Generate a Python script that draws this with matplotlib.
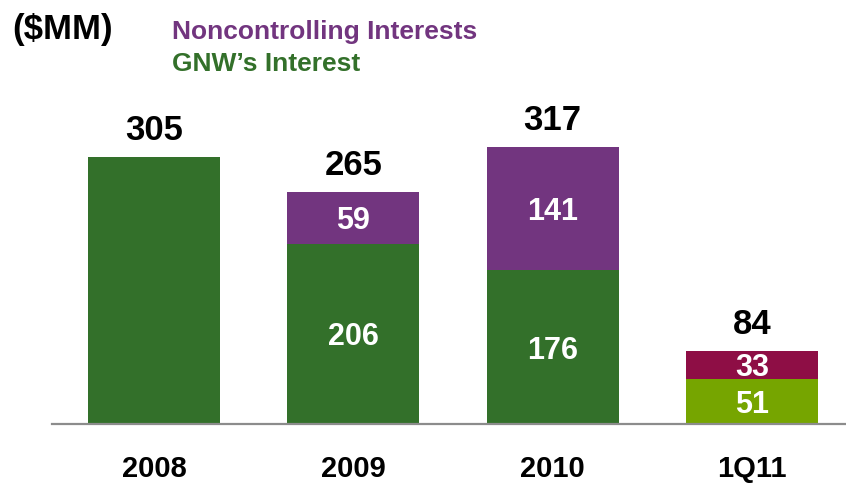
import matplotlib.pyplot as plt
import numpy as np

plt.rcParams['font.family'] = ['Liberation Sans', 'DejaVu Sans']

periods = ["2008", "2009", "2010", "1Q11"]
gnw_interest = [305, 206, 176, 51]
noncontrolling = [0, 59, 141, 33]
totals = [305, 265, 317, 84]

dark_green = "#33702A"
purple = "#72357F"
light_green = "#76A500"
maroon = "#8E0E45"

base_colors = [dark_green, dark_green, dark_green, light_green]
top_colors = [purple, purple, purple, maroon]

fig = plt.figure(figsize=(8.46, 4.83), dpi=100)
ax = fig.add_axes([52 / 846, 59 / 483, 794 / 846, 424 / 483])

x = np.arange(len(periods))
width = 0.662

ax.bar(x, gnw_interest, width, color=base_colors, zorder=2)
ax.bar(x, noncontrolling, width, bottom=gnw_interest, color=top_colors, zorder=2)

# segment values inside the bars
for xi, g, n in zip(x, gnw_interest, noncontrolling):
    if n:
        ax.text(xi, g / 2, str(g), ha="center", va="center_baseline", color="white",
                fontsize=22, fontweight="bold")
        ax.text(xi, g + n / 2, str(n), ha="center", va="center_baseline", color="white",
                fontsize=22, fontweight="bold")

# totals above each bar
for xi, t in zip(x, totals):
    ax.annotate(str(t), (xi, t), xytext=(0, 7), textcoords="offset points",
                ha="center", va="bottom", fontsize=25, fontweight="bold")

ax.set_xlim(-0.512, 3.472)
ax.set_ylim(0, 484.6)
ax.set_xticks(x)
ax.set_xticklabels(periods, fontsize=21, fontweight="bold")
ax.tick_params(axis="x", length=0, pad=22)
ax.set_yticks([])
for side in ["top", "right", "left"]:
    ax.spines[side].set_visible(False)
ax.spines["bottom"].set_color("#8C8C8C")
ax.spines["bottom"].set_linewidth(1.6)

fig.text(12 / 846, 1 - 30 / 483, "($MM)", fontsize=25, fontweight="bold",
         ha="left", va="center")
fig.text(172 / 846, 1 - 32 / 483, "Noncontrolling Interests", fontsize=19,
         fontweight="bold", color=purple, ha="left", va="center")
fig.text(172 / 846, 1 - 64 / 483, "GNW\u2019s Interest", fontsize=19,
         fontweight="bold", color=dark_green, ha="left", va="center")

fig.savefig("out.png", dpi=100)
